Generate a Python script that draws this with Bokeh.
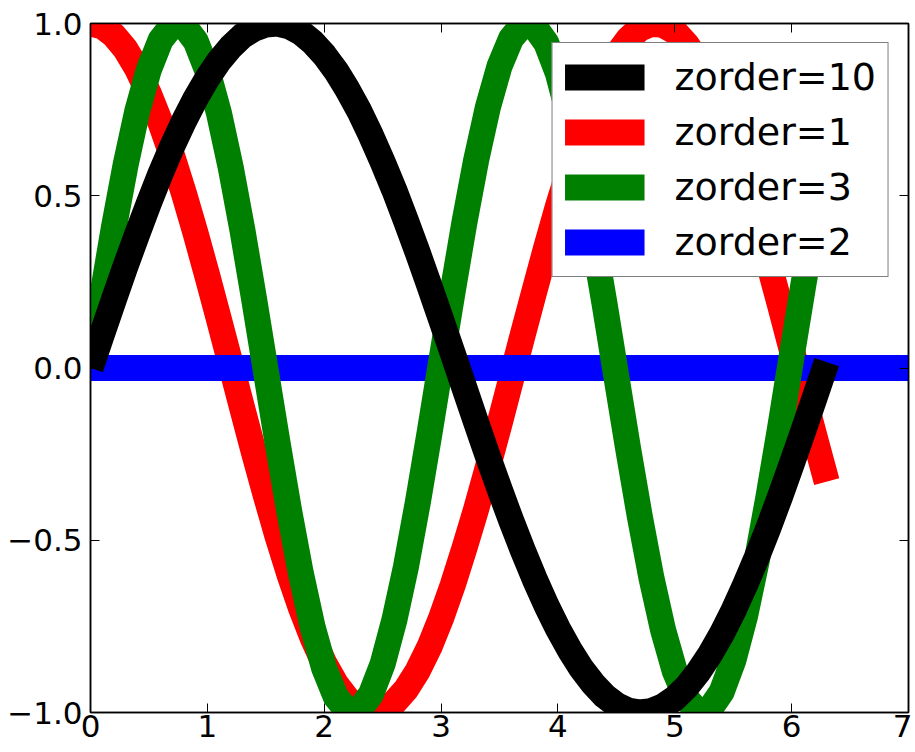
from bokeh.plotting import figure
from bokeh.models import (Range1d, FixedTicker, LinearAxis, Legend, LegendItem,
                          CustomJSTickFormatter)
from bokeh.embed import file_html
from bokeh.resources import INLINE

# ---- data ----
x_vals = [0.0, 0.1, 0.2, 0.3, 0.4, 0.5, 0.6, 0.7, 0.8, 0.9,
          1.0, 1.1, 1.2, 1.3, 1.4, 1.5, 1.6, 1.7, 1.8, 1.9,
          2.0, 2.1, 2.2, 2.3, 2.4, 2.5, 2.6, 2.7, 2.8, 2.9,
          3.0, 3.1, 3.2, 3.3, 3.4, 3.5, 3.6, 3.7, 3.8, 3.9,
          4.0, 4.1, 4.2, 4.3, 4.4, 4.5, 4.6, 4.7, 4.8, 4.9,
          5.0, 5.1, 5.2, 5.3, 5.4, 5.5, 5.6, 5.7, 5.8, 5.9,
          6.0, 6.1, 6.2, 6.3]

black_y = [0.000, 0.100, 0.199, 0.296, 0.389, 0.479, 0.565, 0.644, 0.717, 0.783,
           0.841, 0.891, 0.932, 0.964, 0.985, 0.997, 1.000, 0.992, 0.974, 0.946,
           0.909, 0.863, 0.808, 0.746, 0.675, 0.598, 0.516, 0.427, 0.335, 0.239,
           0.141, 0.042, -0.058, -0.158, -0.256, -0.351, -0.443, -0.530, -0.612, -0.688,
           -0.757, -0.818, -0.872, -0.916, -0.952, -0.978, -0.994, -1.000, -0.996, -0.982,
           -0.959, -0.926, -0.883, -0.832, -0.773, -0.706, -0.631, -0.551, -0.465, -0.374,
           -0.279, -0.182, -0.083, 0.017]

red_y = [1.000, 0.992, 0.966, 0.925, 0.868, 0.796, 0.711, 0.614, 0.506, 0.390,
         0.267, 0.140, 0.011, -0.119, -0.247, -0.370, -0.488, -0.597, -0.696, -0.783,
         -0.857, -0.917, -0.961, -0.989, -1.000, -0.994, -0.971, -0.933, -0.879, -0.810,
         -0.726, -0.630, -0.523, -0.410, -0.288, -0.162, -0.032, 0.098, 0.225, 0.350,
         0.469, 0.580, 0.680, 0.769, 0.846, 0.908, 0.954, 0.985, 0.999, 0.996,
         0.977, 0.940, 0.889, 0.822, 0.741, 0.647, 0.544, 0.429, 0.309, 0.183,
         0.054, -0.076, -0.204, -0.330]

green_y = [0.000, 0.208, 0.408, 0.589, 0.745, 0.867, 0.952, 0.995, 0.994, 0.949,
           0.863, 0.739, 0.582, 0.400, 0.200, -0.008, -0.216, -0.415, -0.596, -0.751,
           -0.872, -0.955, -0.996, -0.993, -0.947, -0.859, -0.732, -0.576, -0.392, -0.191,
           0.017, 0.224, 0.423, 0.603, 0.756, 0.876, 0.957, 0.997, 0.991, 0.944,
           0.855, 0.726, 0.569, 0.384, 0.184, -0.025, -0.233, -0.430, -0.609, -0.761,
           -0.880, -0.960, -0.998, -0.990, -0.941, -0.850, -0.722, -0.562, -0.377, -0.176,
           0.034, 0.241, 0.438, 0.616]

hline_x = [0.0, 7.0]
hline_y = [0.0, 0.0]

labels = ["zorder=10", "zorder=1", "zorder=3", "zorder=2"]

x_ticks = [0, 1, 2, 3, 4, 5, 6, 7]
y_ticks = [-1.0, -0.5, 0.0, 0.5, 1.0]
y_tick_labels = ["\u22121.0", "\u22120.5", "0.0", "0.5", "1.0"]

FONT = "DejaVu Sans"
LW = 26

p = figure(width=912, height=750,
           x_range=Range1d(0, 7), y_range=Range1d(-1, 1),
           output_backend="svg", toolbar_location=None,
           min_border_left=90, min_border_top=23, min_border_right=4,
           min_border_bottom=38)
p.background_fill_color = "white"
p.border_fill_color = "white"
p.grid.visible = False
p.outline_line_color = "black"
p.outline_line_width = 1.5

# zorder: red (1) < blue (2) < green (3) < black (10)
common = dict(line_width=LW, line_join="round", line_cap="butt")
r_red = p.line(x_vals, red_y, line_color="red", **common)
r_blue = p.line(hline_x, hline_y, line_color="blue", **common)
r_green = p.line(x_vals, green_y, line_color="green", **common)
r_black = p.line(x_vals, black_y, line_color="black", **common)

# axes
xa = p.xaxis[0]
ya = p.yaxis[0]
xa.ticker = FixedTicker(ticks=x_ticks)
ya.ticker = FixedTicker(ticks=y_ticks)
ya.major_label_overrides = {t: s for t, s in zip(y_ticks, y_tick_labels)}
for ax in (xa, ya):
    ax.major_label_text_font = FONT
    ax.major_label_text_font_size = "31px"
    ax.major_label_text_color = "black"
    ax.major_tick_in = 9
    ax.major_tick_out = 0
    ax.minor_tick_line_color = None
    ax.axis_line_color = "black"
    ax.axis_line_width = 1.5
    ax.major_tick_line_color = "black"
    ax.major_tick_line_width = 1
xa.major_label_standoff = 2
ya.major_label_standoff = 8

empty = CustomJSTickFormatter(code="return ''")
top = LinearAxis(ticker=FixedTicker(ticks=x_ticks), formatter=empty,
                 major_tick_in=9, major_tick_out=0, minor_tick_line_color=None,
                 major_label_standoff=0, axis_line_width=1.5,
                 major_label_text_font_size="1px")
right = LinearAxis(ticker=FixedTicker(ticks=y_ticks), formatter=empty,
                   major_tick_in=9, major_tick_out=0, minor_tick_line_color=None,
                   major_label_standoff=0, axis_line_width=1.5,
                   major_label_text_font_size="1px")
p.add_layout(top, "above")
p.add_layout(right, "right")

legend = Legend(items=[
    LegendItem(label=labels[0], renderers=[r_black]),
    LegendItem(label=labels[1], renderers=[r_red]),
    LegendItem(label=labels[2], renderers=[r_green]),
    LegendItem(label=labels[3], renderers=[r_blue]),
], location="top_right")
legend.margin = 19
legend.padding = 12
legend.spacing = 11
legend.glyph_width = 80
legend.glyph_height = 40
legend.label_height = 40
legend.label_standoff = 30
legend.label_text_font = FONT
legend.label_text_font_size = "38px"
legend.label_text_color = "black"
legend.label_text_baseline = "middle"
legend.border_line_color = "black"
legend.border_line_width = 1.5
legend.background_fill_color = "white"
legend.background_fill_alpha = 1.0
p.add_layout(legend, "center")

open("out.html", "w").write(file_html(p, INLINE))
